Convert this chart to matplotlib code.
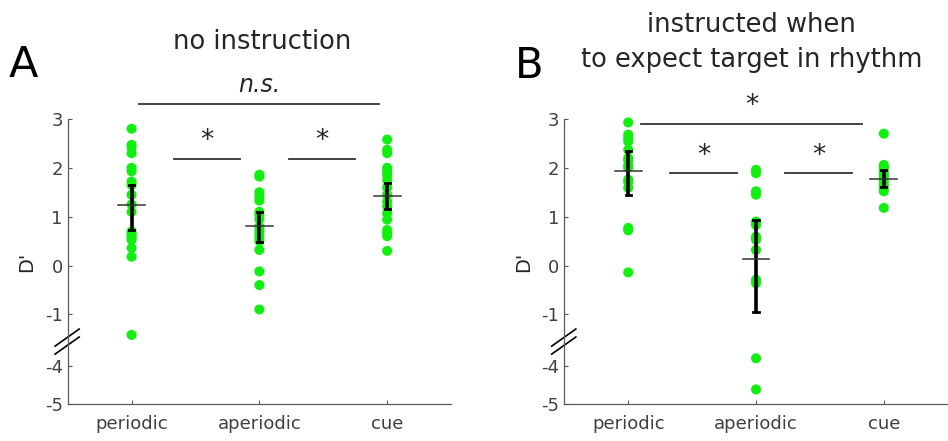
import numpy as np
import matplotlib
matplotlib.use("Agg")
import matplotlib.pyplot as plt

# conditions on the x axis
conditions = ["periodic", "aperiodic", "cue"]

# D' per participant, panel A (no instruction)
a_periodic = [2.80, 2.47, 2.42, 2.30, 2.00, 1.93, 1.72, 1.65, 1.45, 1.25,
              1.10, 0.70, 0.65, 0.62, 0.58, 0.53, 0.36, 0.18, -2.2]
a_aperiodic = [1.86, 1.82, 1.50, 1.42, 1.33, 1.10, 1.05, 0.95, 0.80, 0.70,
               0.63, 0.56, 0.50, 0.32, -0.12, -0.40, -0.90]
a_cue = [2.58, 2.37, 2.30, 2.00, 1.93, 1.85, 1.75, 1.60, 1.45, 1.31, 1.21,
         1.07, 0.94, 0.73, 0.66, 0.60, 0.30]
a_mean = [1.24, 0.80, 1.43]
a_err_hi = [1.65, 1.09, 1.69]
a_err_lo = [0.73, 0.49, 1.16]

# panel B (instructed)
b_periodic = [2.93, 2.68, 2.61, 2.54, 2.37, 2.20, 2.15, 2.05, 2.00, 1.76,
              1.70, 1.59, 0.77, 0.72, -0.14]
b_aperiodic = [1.96, 1.89, 1.52, 1.45, 0.90, 0.83, 0.59, 0.53, 0.32, -0.29,
               -0.36, -3.57, -4.62]
b_cue = [2.70, 2.06, 2.02, 1.98, 1.93, 1.86, 1.80, 1.72, 1.65, 1.59, 1.52,
         1.18]
b_mean = [1.94, 0.14, 1.77]
b_err_hi = [2.34, 0.94, 1.96]
b_err_lo = [1.45, -0.96, 1.61]

yticks = [-5, -4, -1, 0, 1, 2, 3]

# broken axis: values below -1 are squeezed
brk_data = [-10, -5, -4, -1, 10]
brk_disp = [-6.75, -2.834, -2.049, -1, 10]


def fwd(v):
    return np.interp(v, brk_data, brk_disp)


def inv(d):
    return np.interp(d, brk_disp, brk_data)


green = "#0ff00f"
axcol = "#5a5a5a"
txtcol = "#262626"


def draw_panel(ax, groups, means, hi, lo, sig):
    ax.set_yscale("function", functions=(fwd, inv))
    x = np.arange(1, len(groups) + 1)
    for xi, vals in zip(x, groups):
        ax.scatter(np.full(len(vals), xi), vals, s=52, color=green,
                   edgecolors="none", zorder=2, clip_on=False)
    for xi, m, h, l in zip(x, means, hi, lo):
        ax.plot([xi, xi], [l, h], color="black", lw=2.6, zorder=3,
                solid_capstyle="butt")
        ax.plot([xi - 0.02, xi + 0.02], [h, h], color="black", lw=2, zorder=3)
        ax.plot([xi - 0.02, xi + 0.02], [l, l], color="black", lw=2, zorder=3)
        ax.plot([xi - 0.105, xi + 0.105], [m, m], color="#333333", lw=1.1,
                zorder=4)

    # significance bars
    for x0, x1, yv, label, style in sig:
        ax.plot([x0, x1], [yv, yv], color="#333333", lw=1.3, clip_on=False)
        if style == "italic":
            ax.text((x0 + x1) / 2, yv + 0.15, label, ha="center", va="bottom",
                    fontsize=17, style="italic", color=txtcol)
        else:
            ax.text((x0 + x1) / 2, yv + 0.1, label, ha="center", va="bottom",
                    fontsize=19, color=txtcol)

    ax.set_xlim(0.5, 3.5)
    ax.set_ylim(-5, 3)
    ax.set_xticks(x)
    ax.set_xticklabels(conditions)
    ax.set_yticks(yticks)
    ax.set_yticklabels([str(t) for t in yticks])
    ax.tick_params(direction="in", length=3, colors=axcol, labelsize=13,
                   labelcolor="#404040", width=0.8)
    ax.tick_params(axis="x", pad=8)
    for s in ["top", "right"]:
        ax.spines[s].set_visible(False)
    for s in ["left", "bottom"]:
        ax.spines[s].set_color(axcol)
        ax.spines[s].set_linewidth(0.9)
    ax.set_ylabel("D'", fontsize=14, color=txtcol, labelpad=6)

    # break mark on the y axis
    for dy in (0.0, 0.028):
        ax.plot([-0.033, 0.030], [0.175 + dy, 0.235 + dy], color="black",
                lw=1.2, transform=ax.transAxes, clip_on=False)


fig = plt.figure(figsize=(9.48, 4.41), dpi=100)
axA = fig.add_axes([0.0714, 0.0839, 0.4044, 0.6463])
axB = fig.add_axes([0.5953, 0.0839, 0.4044, 0.6463])

draw_panel(axA, [a_periodic, a_aperiodic, a_cue], a_mean, a_err_hi, a_err_lo,
           [(1.06, 2.94, 3.31, "n.s.", "italic"),
            (1.33, 1.85, 2.19, "*", "star"),
            (2.23, 2.75, 2.19, "*", "star")])
draw_panel(axB, [b_periodic, b_aperiodic, b_cue], b_mean, b_err_hi, b_err_lo,
           [(1.10, 2.83, 2.90, "*", "star"),
            (1.33, 1.85, 1.885, "*", "star"),
            (2.23, 2.75, 1.885, "*", "star")])

fig.text(0.277, 0.889, "no instruction", ha="center", va="baseline",
         fontsize=18.5, color=txtcol)
fig.text(0.793, 0.927, "instructed when", ha="center", va="baseline",
         fontsize=18.5, color=txtcol)
fig.text(0.793, 0.848, "to expect target in rhythm", ha="center",
         va="baseline", fontsize=18.5, color=txtcol)
fig.text(0.025, 0.852, "A", ha="center", va="center", fontsize=31,
         color="black")
fig.text(0.558, 0.85, "B", ha="center", va="center", fontsize=30,
         color="black")

fig.savefig("out.png", dpi=100)
